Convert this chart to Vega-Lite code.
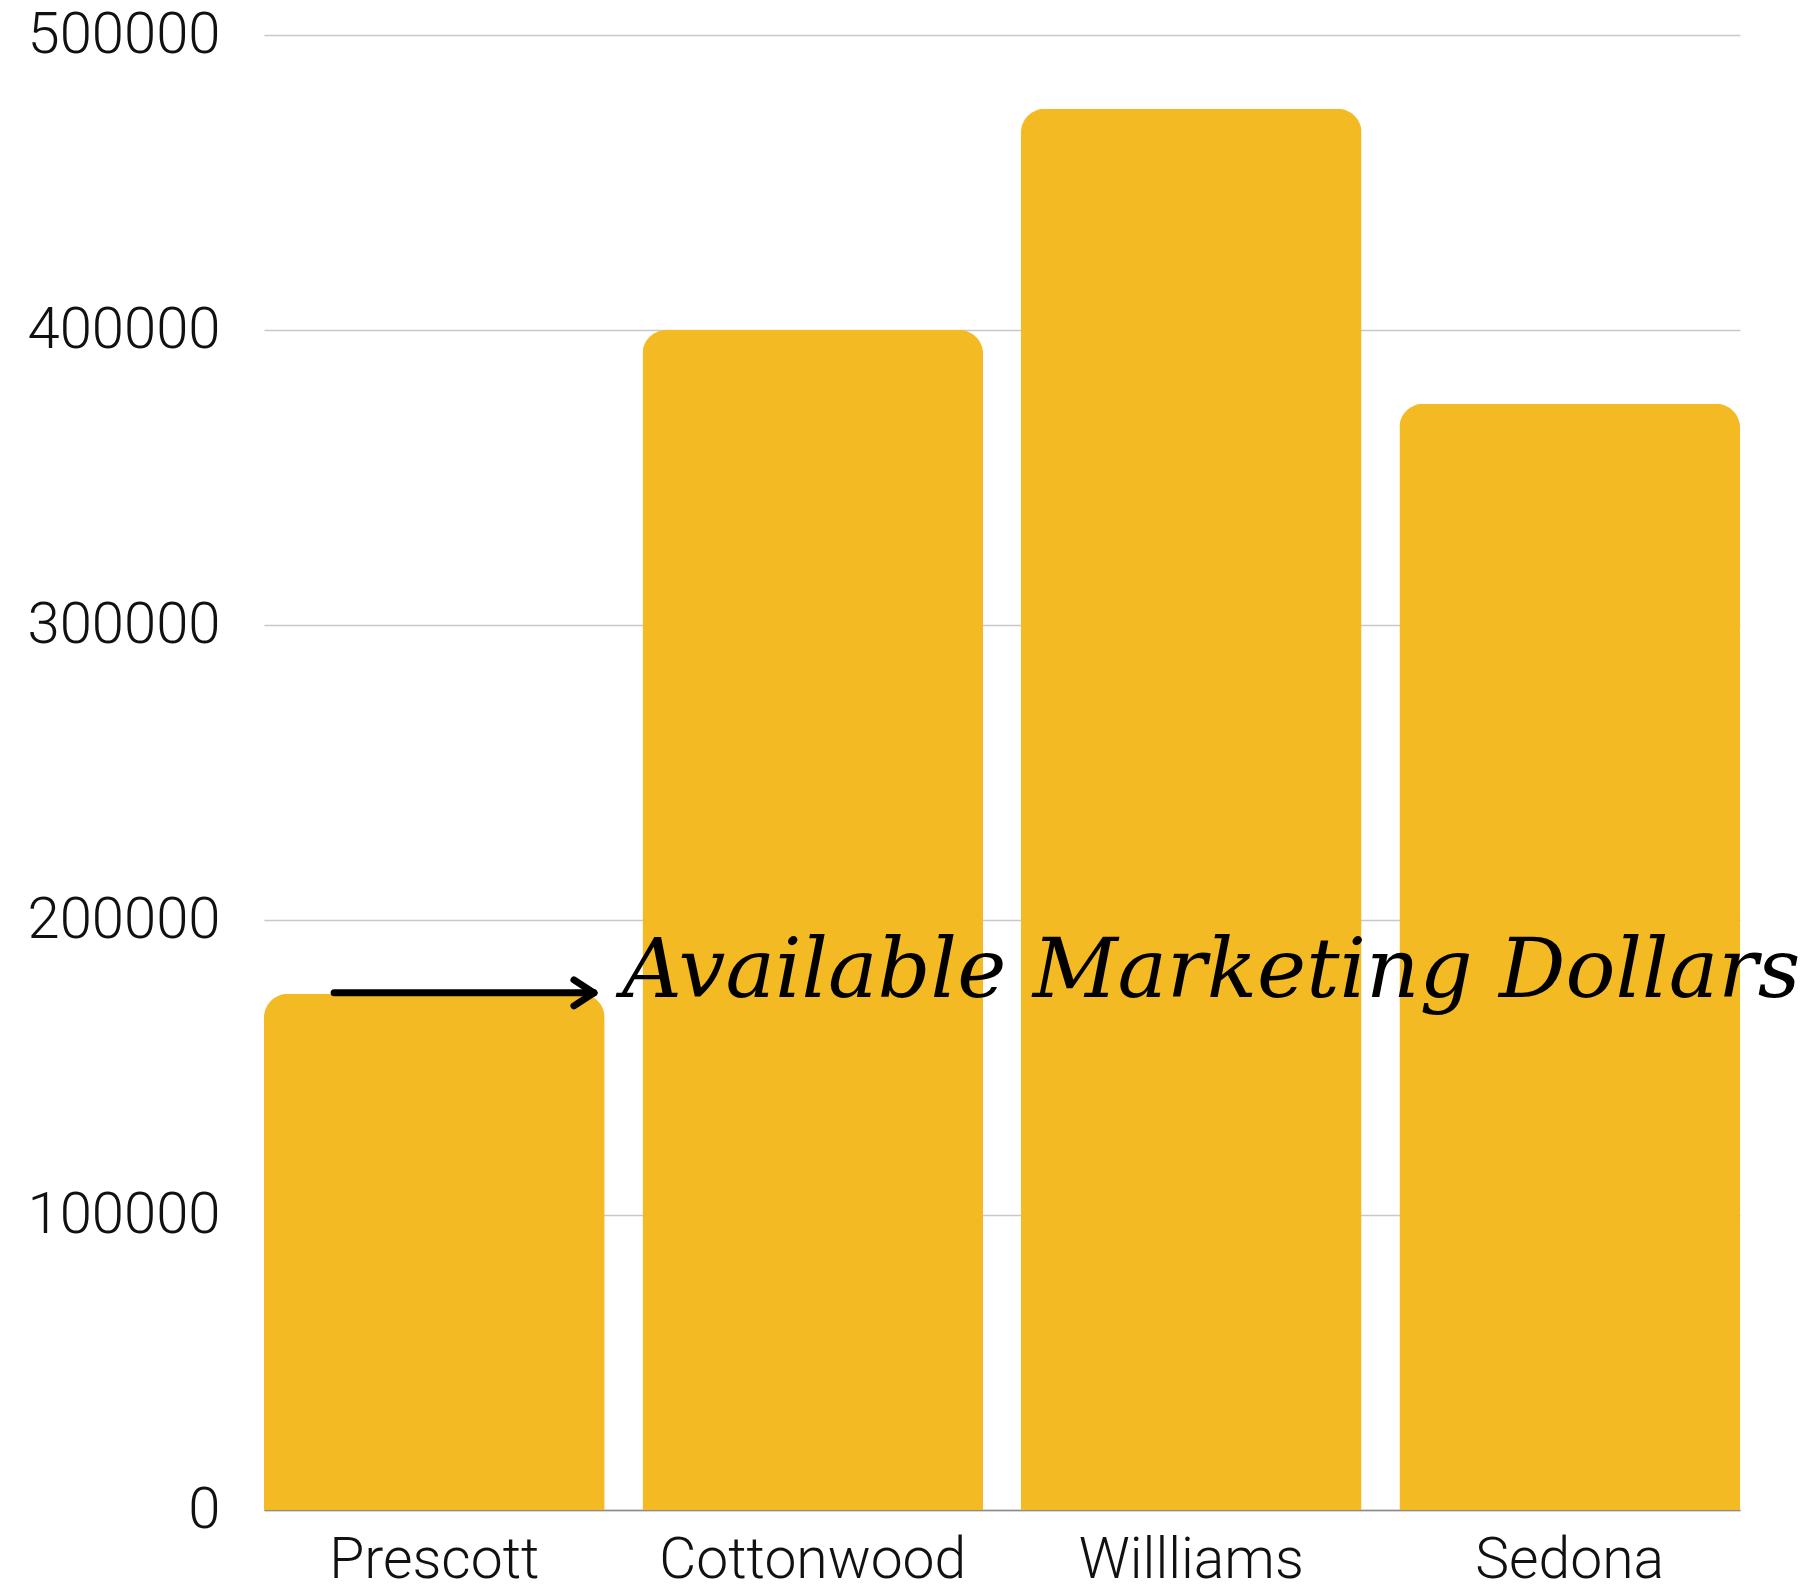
{
  "$schema": "https://vega.github.io/schema/vega-lite/v6.json",
  "width": 1476,
  "height": 1475,
  "autosize": {"type": "none"},
  "padding": {"left": 264, "top": 35, "right": 69, "bottom": 82},
  "background": "white",
  "config": {"view": {"stroke": null}, "font": "Roboto"},
  "datasets": {
    "bars": [
      {"city": "Prescott", "dollars": 175000},
      {"city": "Cottonwood", "dollars": 400000},
      {"city": "Willliams", "dollars": 475000},
      {"city": "Sedona", "dollars": 375000}
    ],
    "arrow": [
      {"x": 0.19, "y": 175300, "x2": 0.894, "y2": 175300},
      {"x": 0.84, "y": 179700, "x2": 0.894, "y2": 175300},
      {"x": 0.84, "y": 170900, "x2": 0.894, "y2": 175300}
    ],
    "label": [
      {"x": 0.97, "y": 174000, "text": "Available Marketing Dollars"}
    ]
  },
  "layer": [
    {
      "data": {"name": "bars"},
      "mark": {"type": "bar", "color": "#F4BA24", "cornerRadiusTopLeft": 24, "cornerRadiusTopRight": 24},
      "encoding": {
        "x": {
          "field": "city", "type": "nominal", "sort": null,
          "scale": {"paddingInner": 0.1, "paddingOuter": 0},
          "axis": {"title": null, "labelAngle": 0, "labelFontSize": 57, "labelFontWeight": 300, "labelLimit": 2000, "labelColor": "#111111", "labelFont": "Roboto", "labelPadding": 22, "ticks": false, "domain": true, "domainColor": "#8a8a8a", "domainWidth": 1.5}
        },
        "y": {
          "field": "dollars", "type": "quantitative",
          "scale": {"domain": [0, 500000], "nice": false},
          "axis": {"title": null, "values": [0, 100000, 200000, 300000, 400000, 500000], "format": "d", "labelFontSize": 58, "labelFontWeight": 300, "labelLimit": 2000, "labelColor": "#111111", "labelFont": "Roboto", "labelPadding": 44, "ticks": false, "domain": false, "grid": true, "gridColor": "#c8c8c8", "gridWidth": 1.3}
        }
      }
    },
    {
      "data": {"name": "arrow"},
      "mark": {"type": "rule", "color": "#000000", "strokeWidth": 7, "strokeCap": "round"},
      "encoding": {
        "x": {"field": "x", "type": "quantitative", "scale": {"domain": [0, 4], "nice": false, "zero": true}, "axis": null},
        "x2": {"field": "x2"},
        "y": {"field": "y", "type": "quantitative"},
        "y2": {"field": "y2"}
      }
    },
    {
      "data": {"name": "label"},
      "mark": {"type": "text", "align": "left", "baseline": "alphabetic", "font": "DejaVu Serif", "fontStyle": "italic", "fontSize": 83, "color": "#000000"},
      "encoding": {
        "x": {"field": "x", "type": "quantitative", "scale": {"domain": [0, 4], "nice": false, "zero": true}, "axis": null},
        "y": {"field": "y", "type": "quantitative"},
        "text": {"field": "text"}
      }
    }
  ],
  "resolve": {"scale": {"x": "independent"}, "axis": {"x": "independent"}}
}
